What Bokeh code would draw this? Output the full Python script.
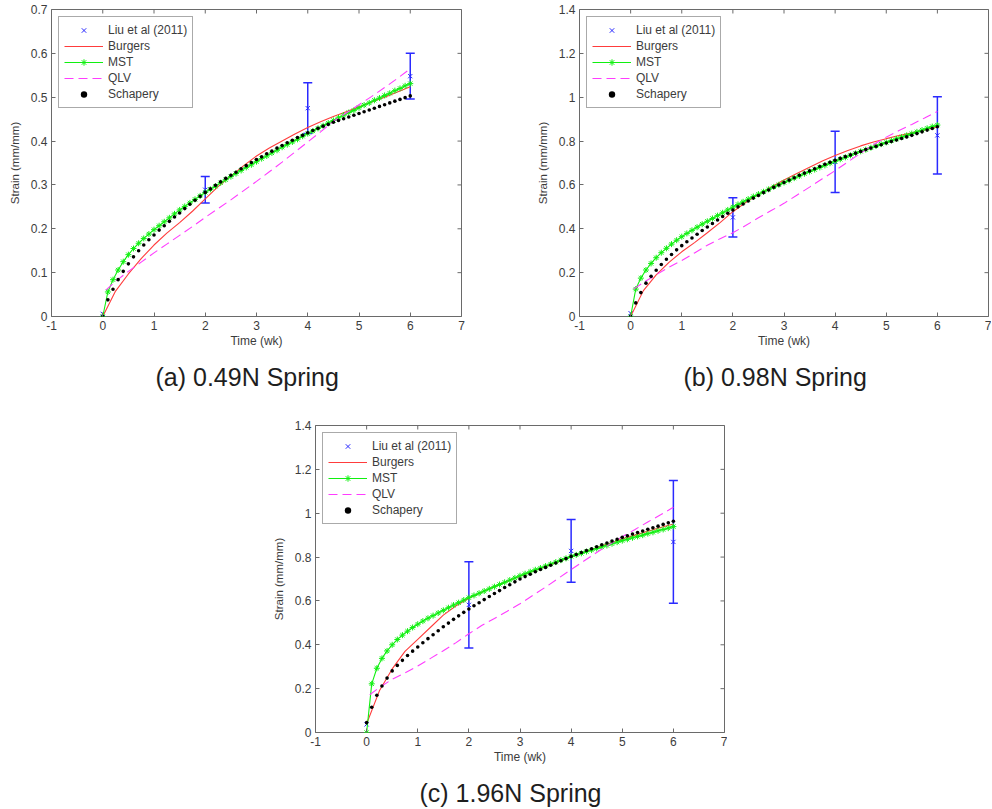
import math
from bokeh.plotting import figure
from bokeh.models import (Range1d, FixedTicker, Legend, LegendItem,
                          Whisker, ColumnDataSource, Title, TeeHead, Spacer)
from bokeh.layouts import row, column
from bokeh.embed import file_html
from bokeh.resources import INLINE

# ---------------- data ----------------
X_TICKS = [-1, 0, 1, 2, 3, 4, 5, 6, 7]
X_TICK_LABELS = ["-1", "0", "1", "2", "3", "4", "5", "6", "7"]
A_Y_TICKS = [0, 0.1, 0.2, 0.3, 0.4, 0.5, 0.6, 0.7]
A_Y_TICK_LABELS = ["0", "0.1", "0.2", "0.3", "0.4", "0.5", "0.6", "0.7"]
BC_Y_TICKS = [0, 0.2, 0.4, 0.6, 0.8, 1, 1.2, 1.4]
BC_Y_TICK_LABELS = ["0", "0.2", "0.4", "0.6", "0.8", "1", "1.2", "1.4"]

T_FINE = [0.0, 0.1, 0.2, 0.3, 0.4, 0.5, 0.6, 0.7, 0.8, 0.9,
          1.0, 1.1, 1.2, 1.3, 1.4, 1.5, 1.6, 1.7, 1.8, 1.9,
          2.0, 2.1, 2.2, 2.3, 2.4, 2.5, 2.6, 2.7, 2.8, 2.9,
          3.0, 3.1, 3.2, 3.3, 3.4, 3.5, 3.6, 3.7, 3.8, 3.9,
          4.0, 4.1, 4.2, 4.3, 4.4, 4.5, 4.6, 4.7, 4.8, 4.9,
          5.0, 5.1, 5.2, 5.3, 5.4, 5.5, 5.6, 5.7, 5.8, 5.9, 6.0]
T_COARSE = [0.0, 0.25, 0.5, 0.75, 1.0, 1.25, 1.5, 1.75, 2.0, 2.25, 2.5, 2.75,
            3.0, 3.25, 3.5, 3.75, 4.0, 4.25, 4.5, 4.75, 5.0, 5.25, 5.5, 5.75, 6.0]
T_QLV = [0.06, 0.25, 0.5, 0.75, 1.0, 1.25, 1.5, 1.75, 2.0, 2.25, 2.5, 2.75,
         3.0, 3.25, 3.5, 3.75, 4.0, 4.25, 4.5, 4.75, 5.0, 5.25, 5.5, 5.75, 6.0]
LIU_T = [0, 2, 4, 6]

# (a) 0.49N
A_LIU = [0.006, 0.289, 0.475, 0.548]
A_LIU_ERR = [0.0, 0.030, 0.058, 0.052]
A_BURGERS = [0.000, 0.058, 0.097, 0.132, 0.163, 0.190, 0.214, 0.240, 0.268, 0.296,
             0.320, 0.344, 0.366, 0.384, 0.400, 0.416, 0.431, 0.444, 0.456, 0.467,
             0.478, 0.489, 0.500, 0.512, 0.524]
A_MST = [0.000, 0.056, 0.084, 0.106, 0.125, 0.141, 0.155, 0.167, 0.178, 0.188,
         0.198, 0.207, 0.216, 0.225, 0.234, 0.243, 0.251, 0.259, 0.267, 0.275,
         0.283, 0.290, 0.297, 0.305, 0.312, 0.319, 0.326, 0.333, 0.340, 0.346,
         0.353, 0.360, 0.366, 0.373, 0.379, 0.386, 0.392, 0.398, 0.404, 0.411,
         0.417, 0.423, 0.429, 0.435, 0.441, 0.447, 0.453, 0.459, 0.465, 0.470,
         0.476, 0.482, 0.487, 0.493, 0.498, 0.504, 0.509, 0.515, 0.520, 0.526, 0.531]
A_QLV = [0.060, 0.080, 0.103, 0.124, 0.145, 0.165, 0.185, 0.205, 0.226, 0.246,
         0.266, 0.287, 0.308, 0.330, 0.352, 0.375, 0.398, 0.421, 0.445, 0.464,
         0.483, 0.502, 0.522, 0.543, 0.565]
A_SCHAPERY = [0.000, 0.038, 0.062, 0.084, 0.103, 0.120, 0.136, 0.150, 0.163, 0.175,
              0.186, 0.197, 0.207, 0.217, 0.227, 0.236, 0.246, 0.256, 0.265, 0.274,
              0.283, 0.291, 0.299, 0.307, 0.315, 0.322, 0.329, 0.337, 0.344, 0.351,
              0.358, 0.364, 0.371, 0.377, 0.384, 0.390, 0.396, 0.402, 0.408, 0.413,
              0.419, 0.424, 0.429, 0.434, 0.438, 0.443, 0.447, 0.451, 0.455, 0.459,
              0.463, 0.467, 0.471, 0.475, 0.479, 0.483, 0.487, 0.491, 0.495, 0.499, 0.503]

# (b) 0.98N
B_LIU = [0.015, 0.452, 0.705, 0.826]
B_LIU_ERR = [0.0, 0.089, 0.140, 0.176]
B_BURGERS = [0.000, 0.118, 0.190, 0.247, 0.295, 0.337, 0.382, 0.428, 0.478, 0.520,
             0.556, 0.591, 0.622, 0.652, 0.681, 0.709, 0.734, 0.757, 0.778, 0.796,
             0.811, 0.825, 0.838, 0.851, 0.864]
B_MST = [0.000, 0.125, 0.175, 0.212, 0.242, 0.268, 0.291, 0.311, 0.330, 0.348,
         0.364, 0.379, 0.393, 0.407, 0.421, 0.434, 0.447, 0.460, 0.473, 0.486,
         0.499, 0.511, 0.523, 0.535, 0.547, 0.558, 0.569, 0.580, 0.591, 0.601,
         0.611, 0.621, 0.631, 0.641, 0.651, 0.661, 0.670, 0.680, 0.689, 0.699,
         0.708, 0.717, 0.726, 0.735, 0.744, 0.753, 0.761, 0.770, 0.778, 0.786,
         0.794, 0.802, 0.810, 0.818, 0.826, 0.834, 0.842, 0.850, 0.858, 0.866, 0.873]
B_QLV = [0.125, 0.155, 0.190, 0.225, 0.255, 0.290, 0.325, 0.355, 0.382, 0.415,
         0.450, 0.483, 0.516, 0.553, 0.590, 0.628, 0.665, 0.705, 0.745, 0.784,
         0.818, 0.848, 0.876, 0.905, 0.935]
B_SCHAPERY = [0.000, 0.062, 0.109, 0.152, 0.183, 0.211, 0.237, 0.261, 0.283, 0.304,
              0.323, 0.341, 0.358, 0.375, 0.392, 0.408, 0.424, 0.440, 0.456, 0.471,
              0.486, 0.500, 0.513, 0.527, 0.540, 0.552, 0.565, 0.577, 0.589, 0.600,
              0.611, 0.622, 0.633, 0.644, 0.654, 0.664, 0.674, 0.684, 0.694, 0.703,
              0.712, 0.721, 0.729, 0.737, 0.745, 0.753, 0.761, 0.768, 0.776, 0.783,
              0.791, 0.798, 0.805, 0.812, 0.819, 0.826, 0.834, 0.842, 0.850, 0.857, 0.865]

# (c) 1.96N
C_LIU = [0.037, 0.582, 0.828, 0.869]
C_LIU_ERR = [0.0, 0.197, 0.143, 0.280]
C_BURGERS = [0.040, 0.190, 0.290, 0.370, 0.425, 0.480, 0.535, 0.578, 0.612, 0.640,
             0.665, 0.690, 0.713, 0.735, 0.757, 0.779, 0.801, 0.822, 0.843, 0.863,
             0.882, 0.900, 0.918, 0.935, 0.951]
C_MST = [0.000, 0.222, 0.293, 0.338, 0.372, 0.400, 0.424, 0.444, 0.462, 0.479,
         0.494, 0.508, 0.521, 0.533, 0.545, 0.557, 0.569, 0.581, 0.592, 0.604,
         0.615, 0.625, 0.635, 0.645, 0.655, 0.665, 0.675, 0.685, 0.695, 0.705,
         0.715, 0.724, 0.733, 0.742, 0.750, 0.759, 0.768, 0.777, 0.786, 0.794,
         0.803, 0.810, 0.817, 0.825, 0.832, 0.839, 0.846, 0.853, 0.861, 0.868,
         0.875, 0.881, 0.888, 0.894, 0.900, 0.907, 0.913, 0.920, 0.926, 0.932, 0.939]
C_QLV = [0.172, 0.205, 0.243, 0.272, 0.303, 0.338, 0.373, 0.410, 0.450, 0.488,
         0.520, 0.553, 0.587, 0.625, 0.663, 0.703, 0.743, 0.782, 0.821, 0.858,
         0.893, 0.926, 0.960, 0.993, 1.027]
C_SCHAPERY = [0.045, 0.115, 0.170, 0.212, 0.248, 0.281, 0.306, 0.329, 0.351, 0.371,
              0.390, 0.409, 0.428, 0.446, 0.464, 0.482, 0.499, 0.516, 0.532, 0.548,
              0.563, 0.578, 0.592, 0.606, 0.620, 0.634, 0.647, 0.661, 0.674, 0.687,
              0.700, 0.711, 0.722, 0.733, 0.743, 0.753, 0.763, 0.773, 0.783, 0.793,
              0.803, 0.812, 0.821, 0.830, 0.838, 0.847, 0.856, 0.864, 0.873, 0.881,
              0.890, 0.897, 0.905, 0.912, 0.919, 0.927, 0.934, 0.941, 0.949, 0.956, 0.963]

# ---------------- style ----------------
FONT = "Liberation Sans"
TEXT = "#3c3c3c"
AXIS = "#6a6a6a"
BLUE = "#2a2aff"
RED = "#ff3c3c"
GREEN = "#10f010"
MAGENTA = "#ff3cff"
BLACK = "#000000"


def make_panel(caption, ymax, yticks, ylabels, liu, liu_err, burgers, mst, qlv,
               schapery, frame_w, b_left, b_right, b_bottom):
    p = figure(frame_width=frame_w, frame_height=307,
               x_range=Range1d(-1, 7), y_range=Range1d(0, ymax),
               output_backend="svg", toolbar_location=None, title=None,
               min_border_left=b_left, min_border_right=b_right,
               min_border_top=9, min_border_bottom=b_bottom,
               background_fill_color="white", border_fill_color="white",
               outline_line_color=AXIS, outline_line_width=1)

    x_over = {t: s for t, s in zip(X_TICKS, X_TICK_LABELS)}
    y_over = {t: s for t, s in zip(yticks, ylabels)}

    for ax in p.xaxis:
        ax.ticker = FixedTicker(ticks=X_TICKS)
        ax.major_label_overrides = x_over
        ax.axis_label = "Time (wk)"
        ax.axis_label_standoff = 1
        ax.major_label_standoff = 4
    for ax in p.yaxis:
        ax.ticker = FixedTicker(ticks=yticks)
        ax.major_label_overrides = y_over
        ax.axis_label = "Strain (mm/mm)"
        ax.axis_label_standoff = 7
        ax.major_label_standoff = 4
    for ax in list(p.xaxis) + list(p.yaxis):
        ax.axis_line_color = None
        ax.major_tick_in = 4
        ax.major_tick_out = 0
        ax.major_tick_line_color = AXIS
        ax.minor_tick_line_color = None
        ax.major_label_text_font = FONT
        ax.major_label_text_font_size = "12px"
        ax.major_label_text_color = TEXT
        ax.axis_label_text_font = FONT
        ax.axis_label_text_font_style = "normal"
        ax.axis_label_text_color = TEXT
    p.xaxis.axis_label_text_font_size = "12px"
    p.yaxis.axis_label_text_font_size = "11.5px"
    p.xgrid.visible = False
    p.ygrid.visible = False

    # inward ticks on the top and right edges of the box (half of each dash is clipped)
    p.scatter(X_TICKS, [ymax for _ in X_TICKS], marker="dash", angle=math.pi / 2,
              size=8, line_color=AXIS, line_width=1)
    p.scatter([7 for _ in yticks], yticks, marker="dash", size=8,
              line_color=AXIS, line_width=1)

    r_liu = p.scatter(LIU_T, liu, marker="x", size=6, line_color=BLUE, line_width=1)
    r_bur = p.line(T_COARSE, burgers, line_color=RED, line_width=1.1)
    r_mst_l = p.line(T_FINE, mst, line_color=GREEN, line_width=1.1)
    r_mst_m = p.scatter(T_FINE, mst, marker="asterisk", size=6, line_color=GREEN, line_width=1)
    r_qlv = p.line(T_QLV, qlv, line_color=MAGENTA, line_width=1.1, line_dash="9 5")
    r_sch = p.scatter(T_FINE, schapery, marker="circle", size=3.6, fill_color=BLACK,
                      line_color=None)

    wt = [t for t, e in zip(LIU_T, liu_err) if e > 0]
    wu = [m + e for m, e in zip(liu, liu_err) if e > 0]
    wl = [m - e for m, e in zip(liu, liu_err) if e > 0]
    src = ColumnDataSource(dict(x=wt, upper=wu, lower=wl))
    w = Whisker(base="x", upper="upper", lower="lower", source=src, dimension="height",
                line_color=BLUE, line_width=1.5,
                upper_head=TeeHead(size=9, line_color=BLUE, line_width=1.5),
                lower_head=TeeHead(size=9, line_color=BLUE, line_width=1.5))
    p.add_layout(w)

    legend = Legend(items=[
        LegendItem(label="Liu et al (2011)", renderers=[r_liu]),
        LegendItem(label="Burgers", renderers=[r_bur]),
        LegendItem(label="MST", renderers=[r_mst_l, r_mst_m]),
        LegendItem(label="QLV", renderers=[r_qlv]),
        LegendItem(label="Schapery", renderers=[r_sch]),
    ], location="top_left", margin=7, padding=5, spacing=0, label_height=16,
        glyph_height=16, glyph_width=39, label_standoff=5,
        label_text_font=FONT, label_text_font_size="12px", label_text_color=TEXT,
        border_line_color="#555555", border_line_width=1,
        background_fill_color="white", background_fill_alpha=1.0)
    p.add_layout(legend)

    cap = Title(text=caption, align="left", offset=104, text_font=FONT,
                text_font_size="25px", text_font_style="normal", text_color="#1e1e1e",
                standoff=21)
    p.add_layout(cap, "below")
    return p


pa = make_panel("(a) 0.49N Spring", 0.7, A_Y_TICKS, A_Y_TICK_LABELS, A_LIU, A_LIU_ERR,
                A_BURGERS, A_MST, A_QLV, A_SCHAPERY, 410, 51, 67, 100)
pb = make_panel("(b) 0.98N Spring", 1.4, BC_Y_TICKS, BC_Y_TICK_LABELS, B_LIU, B_LIU_ERR,
                B_BURGERS, B_MST, B_QLV, B_SCHAPERY, 409, 51, 3, 100)
pc = make_panel("(c) 1.96N Spring", 1.4, BC_Y_TICKS, BC_Y_TICK_LABELS, C_LIU, C_LIU_ERR,
                C_BURGERS, C_MST, C_QLV, C_SCHAPERY, 409, 51, 3, 76)

layout = column(row(pa, pb), row(Spacer(width=264, height=10), pc))

open("out.html", "w").write(file_html(layout, INLINE))
